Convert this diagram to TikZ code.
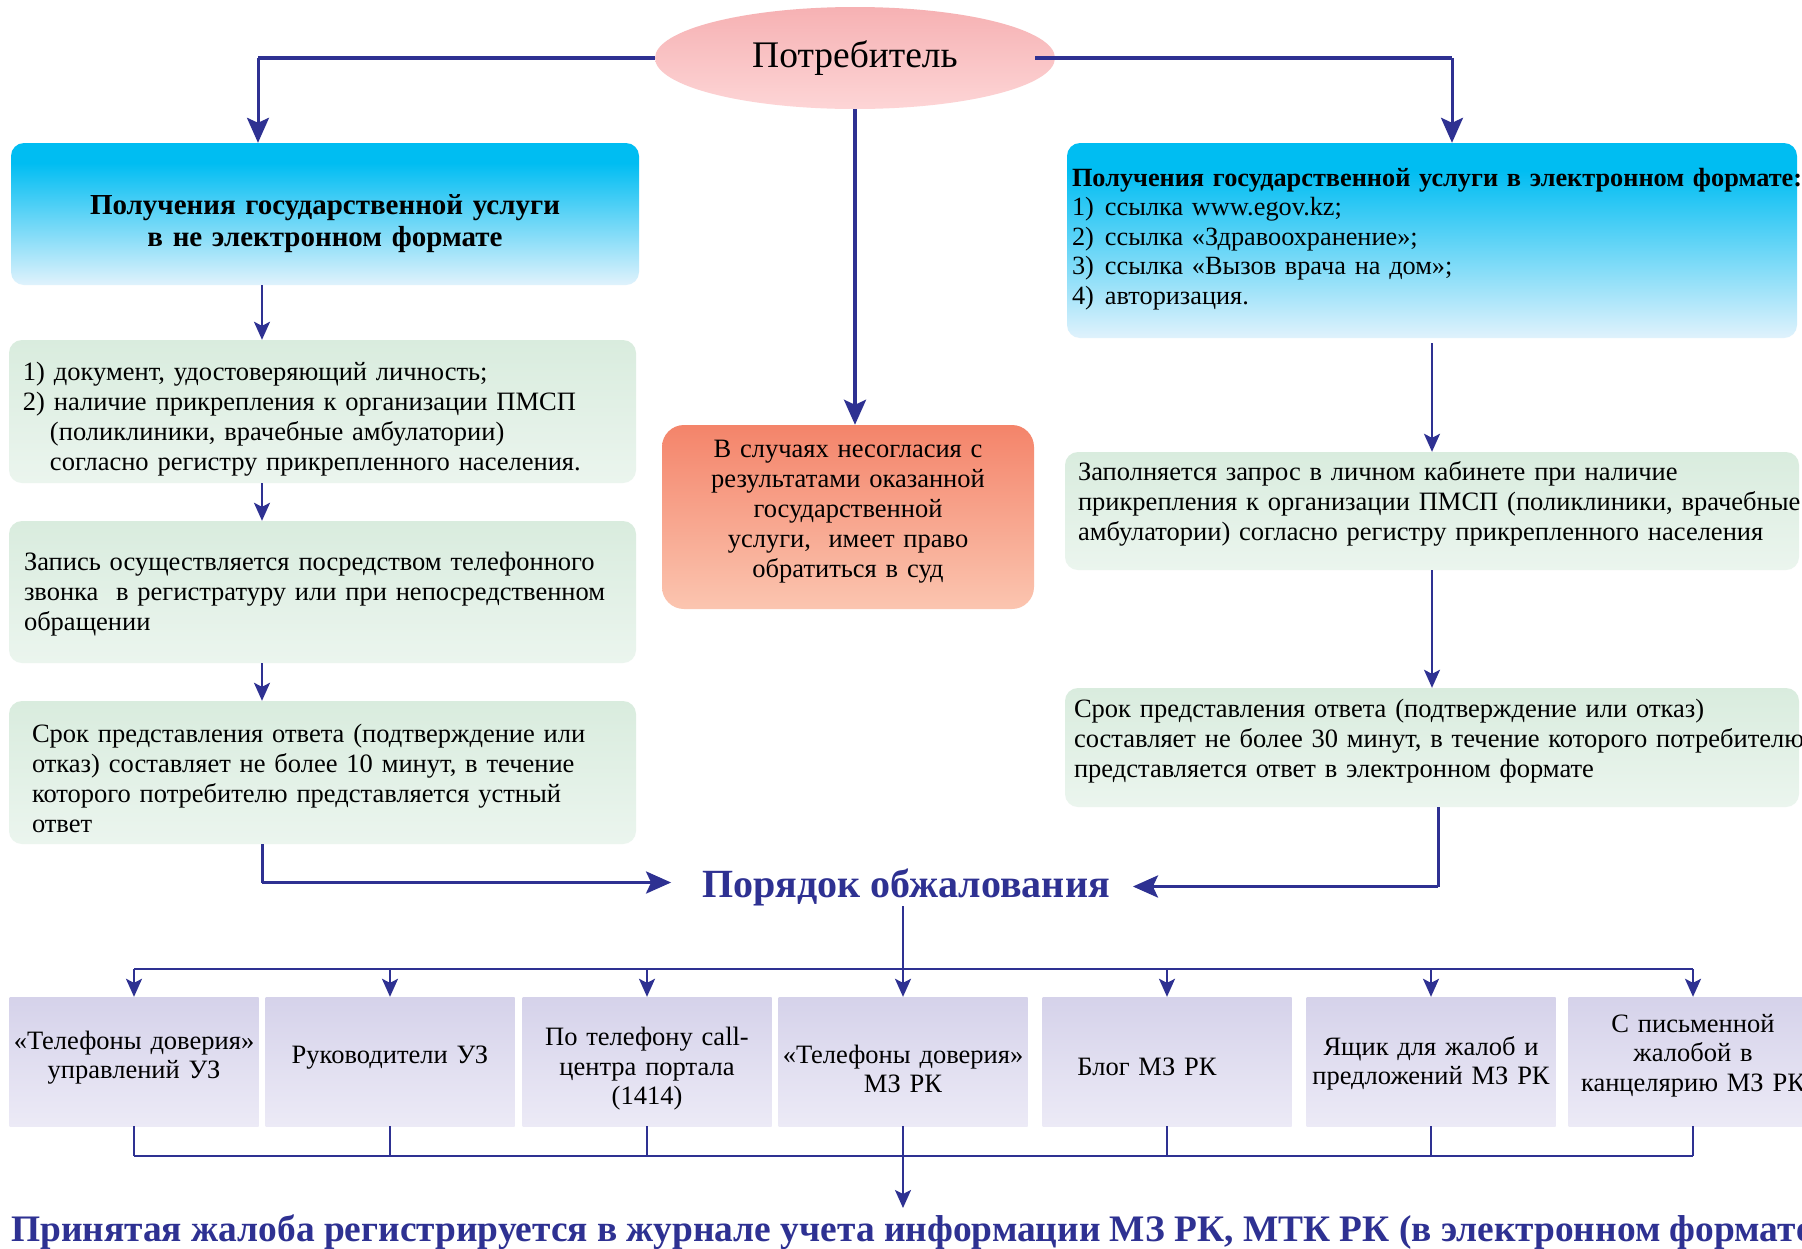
\documentclass[tikz,border=0pt]{standalone}
\usepackage{fontspec}
\setmainfont{Liberation Serif}
\usetikzlibrary{arrows.meta,shapes.geometric}
\definecolor{navy}{HTML}{2E3192}
\definecolor{cyanT}{HTML}{00BDF2}
\definecolor{cyanB}{HTML}{E0F2FC}
\definecolor{greenT}{HTML}{D9ECDE}
\definecolor{greenB}{HTML}{EBF5EE}
\definecolor{pinkT}{HTML}{F6B1B3}
\definecolor{pinkB}{HTML}{FDD5D6}
\definecolor{orT}{HTML}{F4846A}
\definecolor{orB}{HTML}{FBC5B0}
\definecolor{lavT}{HTML}{D5D2EA}
\definecolor{lavB}{HTML}{ECEAF6}
\pgfdeclareverticalshading{cyanfade}{100bp}{color(0bp)=(cyanB); color(25bp)=(cyanB); color(68bp)=(cyanT); color(100bp)=(cyanT)}
% fix first-line height (#1) and last-line depth (#2) of a text block
\newcommand{\tfix}[3]{\rule{0pt}{#1pt}#3\rule[-#2pt]{0pt}{0pt}}
\begin{document}
\begin{tikzpicture}[x=1pt,y=-1pt,
  bodyfont/.style={font=\fontsize{26.5}{30}\selectfont},
  bluebox/.style={shade, shading=cyanfade, rounded corners=13pt, inner sep=0pt},
  greenbox/.style={top color=greenT, bottom color=greenB, rounded corners=13pt, inner ysep=0pt, align=left, bodyfont},
  orangebox/.style={top color=orT, bottom color=orB, rounded corners=22pt, inner sep=0pt, align=center, bodyfont},
  lavbox/.style={top color=lavT, bottom color=lavB, inner sep=0pt, minimum width=249pt, text width=249pt, minimum height=129pt, align=center, font=\fontsize{26.5}{29.5}\selectfont},
  thk/.style={draw=navy, line width=4.5pt},
  vln/.style={draw=navy, line width=3pt},
  thn/.style={draw=navy, line width=2pt},
  bigarrow/.style={-{Stealth[length=25pt, width=22pt, inset=5pt]}},
  smallarrow/.style={-{Stealth[length=18pt, width=16pt, inset=4pt]}},
]
\useasboundingbox[fill=white] (0,0) rectangle (1802,1248);

% ---------- nodes ----------
\node[ellipse, top color=pinkT, bottom color=pinkB, minimum width=400pt, minimum height=102pt, inner sep=0pt,
      font=\fontsize{37.5}{42}\selectfont] (pot) at (855,58) {Потребитель};

\node[bluebox, minimum width=628pt, minimum height=142pt, text width=620pt, align=center,
      font=\bfseries\fontsize{29}{32}\selectfont] (lb) at (325,214)
  {\tfix{41}{8}{Получения государственной услуги\\в не электронном формате}};

\node[bluebox, minimum width=730pt, minimum height=195pt, text width=720pt, inner xsep=5pt, align=left,
      font=\fontsize{26.3}{29.5}\selectfont] (rb) at (1432,240.5)
  {\tfix{24}{15}{\mbox{\bfseries Получения государственной услуги в электронном формате:}\\
   \mbox{\makebox[33pt][l]{1)}ссылка www.egov.kz;}\\
   \mbox{\makebox[33pt][l]{2)}ссылка «Здравоохранение»;}\\
   \mbox{\makebox[33pt][l]{3)}ссылка «Вызов врача на дом»;}\\
   \mbox{\makebox[33pt][l]{4)}авторизация.}}};

\node[greenbox, text width=599pt, inner xsep=14pt, minimum height=143pt] (g1) at (322.5,411.5)
  {\tfix{35}{8}{\mbox{1) документ, удостоверяющий личность;}\\
   \mbox{2) наличие прикрепления к организации ПМСП}\\
   \mbox{\hspace*{27pt}(поликлиники, врачебные амбулатории)}\\
   \mbox{\hspace*{27pt}согласно регистру прикрепленного населения.}}};

\node[greenbox, text width=597pt, inner xsep=15pt, minimum height=142pt] (g2) at (322.5,592)
  {\tfix{24}{8}{\mbox{Запись осуществляется посредством телефонного}\\
   \mbox{звонка\ \ в регистратуру или при непосредственном}\\
   \mbox{обращении}}};

\node[greenbox, text width=581pt, inner xsep=23pt, minimum height=143pt] (g3) at (322.5,772.5)
  {\tfix{37}{8}{\mbox{Срок представления ответа (подтверждение или}\\
   \mbox{отказ) составляет не более 10 минут, в течение}\\
   \mbox{которого потребителю представляется устный}\\
   \mbox{ответ}}};

\node[orangebox, minimum width=372pt, text width=360pt, minimum height=184pt] (ob) at (848,517)
  {\tfix{24}{24}{В случаях несогласия с\\результатами оказанной\\государственной\\услуги,\ \ имеет право\\обратиться в суд}};

\node[greenbox, text width=708pt, inner xsep=13pt, minimum height=118pt] (rg1) at (1432,511)
  {\tfix{24}{26}{\mbox{Заполняется запрос в личном кабинете при наличие}\\
   \mbox{прикрепления к организации ПМСП (поликлиники, врачебные}\\
   \mbox{амбулатории) согласно регистру прикрепленного населения}}};

\node[greenbox, text width=716pt, inner xsep=9pt, minimum height=119pt] (rg2) at (1432,747.5)
  {\tfix{24}{25}{\mbox{Срок представления ответа (подтверждение или отказ)}\\
   \mbox{составляет не более 30 минут, в течение которого потребителю}\\
   \mbox{представляется ответ в электронном формате}}};

\node[inner sep=0pt, text=navy, font=\bfseries\fontsize{40}{46}\selectfont] (por) at (906,887.5) {Порядок обжалования};

\node[lavbox] (b1) at (134,1061.5) {\tfix{24}{19.5}{«Телефоны доверия»\\управлений УЗ}};
\node[lavbox] (b2) at (390,1061.5) {\tfix{24}{21}{Руководители УЗ}};
\node[lavbox] (b3) at (647,1061.5) {\tfix{35}{8}{По телефону call-\\центра портала\\(1414)}};
\node[lavbox] (b4) at (903,1061.5) {\tfix{40.5}{8}{«Телефоны доверия»\\МЗ РК}};
\node[lavbox] (b5) at (1167,1061.5) {\tfix{35.8}{8}{\mbox{Блог МЗ РК\hspace{40pt}}}};
\node[lavbox] (b6) at (1431,1061.5) {\tfix{24.5}{8}{Ящик для жалоб и\\предложений МЗ РК}};
\node[lavbox] (b7) at (1693,1061.5) {\tfix{24}{24}{С письменной\\жалобой в\\канцелярию МЗ РК}};

\node[anchor=base west, inner sep=0pt, text=navy, font=\bfseries\fontsize{37.4}{42}\selectfont] (res) at (11,1241)
  {Принятая жалоба регистрируется в журнале учета информации МЗ РК, МТК РК (в электронном формате)};

% ---------- helper coordinates ----------
\coordinate (lin) at (258,0);
\coordinate (rin) at (1452,0);
\coordinate (lcol) at (262,0);
\coordinate (rcol) at (1438,0);
\coordinate (busT) at (903,969);
\coordinate (busB) at (903,1156);
\coordinate (resin) at (903,1208);

% ---------- connectors ----------
\draw[thk] (pot.west) -- (pot.west -| lin);
\draw[vln, bigarrow] (pot.west -| lin) -- (lin |- lb.north);
\draw[thk] ([xshift=-20pt]pot.east) -- (pot.east -| rin);
\draw[vln, bigarrow] (pot.east -| rin) -- (rin |- rb.north);
\draw[vln, line width=3.5pt, bigarrow] (pot.south) -- (pot.south |- ob.north);

\draw[thn, smallarrow] (lb.south -| lcol) -- (g1.north -| lcol);
\draw[thn, smallarrow] (g1.south -| lcol) -- (g2.north -| lcol);
\draw[thn, smallarrow] (g2.south -| lcol) -- (g3.north -| lcol);

\draw[thn, smallarrow, shorten <=5pt] (rb.south) -- (rg1.north);
\draw[thn, smallarrow] (rg1.south) -- (rg2.north);

\draw[vln] (g3.south -| lcol) -- ([yshift=5pt]lcol |- por.west);
\draw[thk, line width=3.5pt, bigarrow, shorten >=31pt] ([yshift=5pt]lcol |- por.west) -- ([yshift=5pt]por.west);
\draw[vln] (rg2.south -| rcol) -- ([yshift=1pt]rcol |- por.east);
\draw[thk, line width=3.5pt, bigarrow, shorten >=23pt] ([yshift=1pt]rcol |- por.east) -- ([yshift=1pt]por.east);

\draw[thn] (por.south -| busT) -- (busT);
\draw[thn, line width=2.5pt] (b1.north |- busT) -- (b7.north |- busT);
\foreach \b in {b1,b2,b3,b4,b5,b6,b7}{
  \draw[thn, smallarrow] (\b.north |- busT) -- (\b.north);
  \draw[thn] (\b.south) -- (\b.south |- busB);
}
\draw[thn, line width=2.5pt] (b1.south |- busB) -- (b7.south |- busB);
\draw[thn, smallarrow] (busB) -- (resin);
\end{tikzpicture}
\end{document}
